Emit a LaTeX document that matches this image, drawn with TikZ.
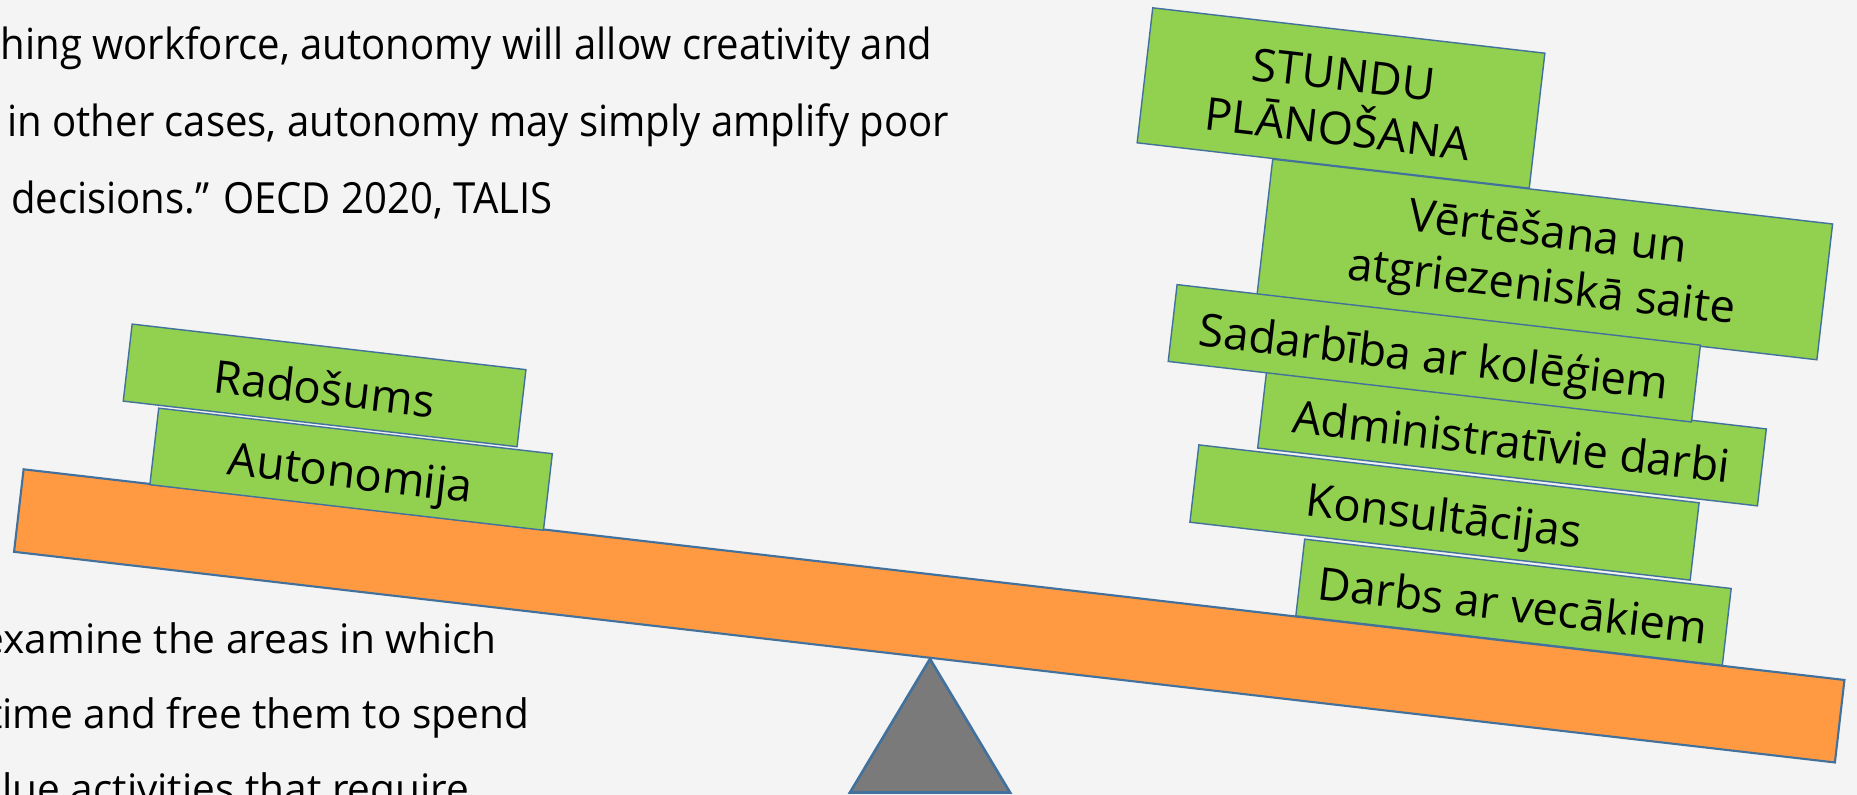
\documentclass[tikz,border=0pt]{standalone}
\usepackage{fontspec}
\setmainfont{Open Sans}
\usetikzlibrary{calc}
\definecolor{bg}{HTML}{F4F4F4}
\definecolor{grn}{HTML}{92D050}
\definecolor{org}{HTML}{FF9A42}
\definecolor{edge}{HTML}{41719C}
\definecolor{gry}{HTML}{7A7A7A}
\newsavebox{\qbox}
\newlength{\qlen}
\newcommand{\fitto}[2]{\sbox{\qbox}{#2}\setlength{\qlen}{\wd\qbox}\pgfmathsetmacro{\qratio}{#1/\qlen}\global\let\qratioG\qratio\scalebox{\qratio}[1]{\usebox{\qbox}}}
\begin{document}
\begin{tikzpicture}[x=0.01cm,y=-0.01cm,
  plate/.style={draw=edge, line width=0.4pt, fill=grn, rotate=-6.6, inner sep=0pt, align=center,
    font=\fontsize{12.9pt}{15.6pt}\selectfont},
  one/.style={text height=11.1pt, text depth=0pt},
  quote/.style={anchor=base east, inner sep=0pt, font=\fontsize{12.2pt}{14pt}\selectfont},
  body/.style={anchor=base east, inner sep=0pt, font=\fontsize{11.55pt}{14pt}\selectfont}]
\path[use as bounding box, fill=bg] (0,0) rectangle (1857,795);
\clip (0,0) rectangle (1857,795);
% quote text
\node[quote] (q3) at (553,213.3) {\fitto{153.9pt}{decisions.” OECD 2020, TALIS}};
\node[quote] (q1) at (933,60) {\scalebox{\qratioG}[1]{hing workforce, autonomy will allow creativity and}};
\node[quote] (q2) at (950,136.7) {\scalebox{\qratioG}[1]{in other cases, autonomy may simply amplify poor}};
% body text
\node[body] (b1) at (497.5,653.3) {examine the areas in which};
\node[body] (b2) at (530,728.3) {time and free them to spend};
\node[body] (b3) at (470,804) {alue activities that require};
% plank and fulcrum
\node[draw=edge, fill=org, line width=0.6pt, rotate=-6.6, minimum width=18.32cm, minimum height=0.83cm, inner sep=0pt] (plank) at (929.25,615.9) {};
\coordinate (apex) at (930,659);
\coordinate (fl) at (850,792.5);
\coordinate (fr) at (1010,792.5);
\draw[draw=edge, fill=gry, line width=0.75pt, line join=miter] (apex) -- (fr) -- (fl) -- cycle;
% left stack
\node[plate, one, minimum width=3.962cm, minimum height=0.775cm] (rad) at (324.6,385.4) {Radošums};
\node[plate, one, minimum width=3.96cm, minimum height=0.77cm] (aut) at (351.1,469.2) {Autonomija};
% right stack
\node[plate, minimum width=3.945cm, minimum height=1.358cm] (stu) at (1341,98) {\rule{0pt}{11.5pt}STUNDU\\PLĀNOŠANA};
\node[plate, minimum width=5.633cm, minimum height=1.366cm] (vert) at (1544.8,259.5) {\rule{0pt}{11.5pt}Vērtēšana un\\atgriezeniskā saite};
\node[plate, one, minimum width=5.028cm, minimum height=0.774cm] (adm) at (1512,438.5) {Administratīvie darbi};
\node[plate, one, minimum width=5.265cm, minimum height=0.773cm] (sad) at (1434.3,353.3) {Sadarbība ar kolēģiem};
\node[plate, one, minimum width=5.033cm, minimum height=0.778cm] (kon) at (1444.5,512.5) {Konsultācijas};
\node[plate, one, minimum width=4.291cm, minimum height=0.772cm] (dar) at (1513.5,602.2) {Darbs ar vecākiem};
\end{tikzpicture}
\end{document}
